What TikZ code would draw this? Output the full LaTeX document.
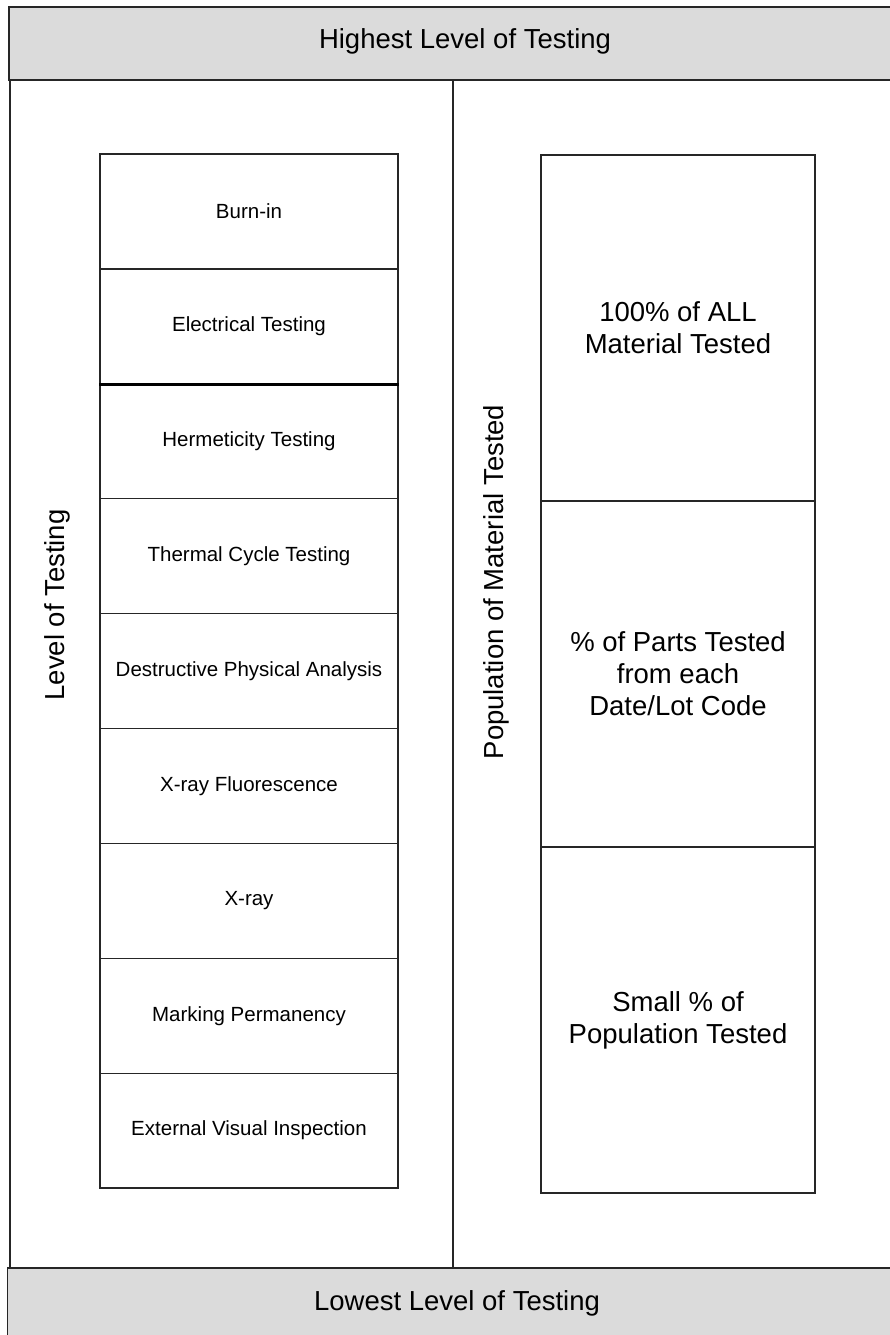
\documentclass[tikz,border=0pt]{standalone}
\usepackage{fontspec}
\setmainfont{Liberation Sans}
\begin{document}
\begin{tikzpicture}[x=1pt,y=-1pt,
  frame/.style={draw=black!85,line width=1.3pt},
  band/.style={frame,fill=black!14,rectangle,inner sep=0pt},
  testbox/.style={frame,rectangle,inner sep=0pt,minimum width=298pt,minimum height=114.9pt,font=\fontsize{20.5}{24}\selectfont},
  popbox/.style={frame,rectangle,inner sep=0pt,minimum width=274pt,minimum height=346pt,align=center,font=\fontsize{27.5}{32}\selectfont},
  biglabel/.style={inner sep=0pt,font=\fontsize{27.5}{32}\selectfont}]
\useasboundingbox (0,0) rectangle (890,1335);
\begin{scope}
\clip (0,0) rectangle (890,1335);
% bands and frames
\path[band] (9,7) rectangle (905,80);
\path[frame] (10,80) rectangle (453,1269);
\path[band] (7.5,1268) rectangle (905,1345);
\node[biglabel] (top) at (465,41) {Highest Level of Testing};
\node[biglabel] (bottom) at (457,1303) {Lowest Level of Testing};
% rotated axis labels
\node[biglabel,rotate=90] (lvl) at (57,605) {Level of Testing};
\node[biglabel,rotate=90] (pop) at (496,582) {Population of Material Tested};
% stack of tests
\node[testbox] (b1) at (249,211.45) {Burn-in};
\node[testbox] (b2) at (249,326.35) {Electrical Testing};
\node[testbox] (b3) at (249,441.25) {Hermeticity Testing};
\node[testbox] (b4) at (249,556.15) {Thermal Cycle Testing};
\node[testbox] (b5) at (249,671.05) {Destructive Physical Analysis};
\node[testbox] (b6) at (249,785.95) {X-ray Fluorescence};
\node[testbox] (b7) at (249,900.85) {X-ray};
\node[testbox] (b8) at (249,1015.75) {Marking Permanency};
\node[testbox] (b9) at (249,1130.65) {External Visual Inspection};
\draw[black,line width=2.6pt] (b2.south west) -- (b2.south east);
% population boxes
\node[popbox] (r1) at (678,328) {100\% of ALL\\Material Tested};
\node[popbox] (r2) at (678,674) {\% of Parts Tested\\from each\\Date/Lot Code};
\node[popbox] (r3) at (678,1020) {Small \% of\\Population Tested};
\end{scope}
\end{tikzpicture}
\end{document}
